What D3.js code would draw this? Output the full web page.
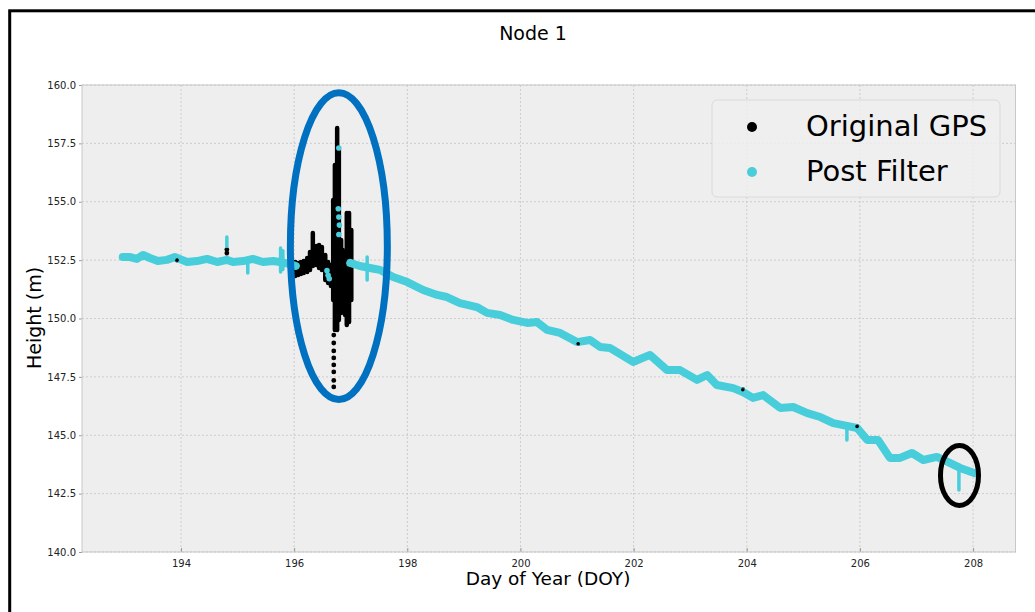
<!DOCTYPE html>
<html><head><meta charset="utf-8">
<script src="https://cdn.jsdelivr.net/npm/d3@7"></script>
<style>body{margin:0;background:#fff;overflow:hidden} svg{display:block} text{font-family:"DejaVu Sans",sans-serif}</style>
</head><body><svg id="c" width="1035" height="612"></svg>
<script>
// ---- data ----
const filterDay = [192.97,193.10,193.22,193.33,193.45,193.59,193.75,193.89,194.11,194.28,194.46,194.64,194.81,194.92,195.10,195.27,195.45,195.63,195.75,195.93,196.03,
  196.99,197.16,197.43,197.52,197.75,198.00,198.28,198.53,198.70,198.93,199.23,199.41,199.64,199.87,200.12,200.29,200.47,200.70,201.00,201.23,201.41,201.58,201.99,202.29,202.59,202.82,203.12,203.30,203.47,203.76,203.93,204.11,204.29,204.59,204.82,205.07,205.30,205.53,205.77,205.95,206.13,206.32,206.53,206.71,206.92,207.12,207.36,207.56,207.77,208.02];
const filterHeight = [152.63,152.63,152.55,152.72,152.59,152.46,152.51,152.63,152.42,152.46,152.55,152.42,152.51,152.42,152.46,152.55,152.42,152.46,152.42,152.33,152.25,
  152.38,152.25,152.12,152.08,151.78,151.56,151.22,151.01,150.92,150.66,150.49,150.24,150.15,149.94,149.81,149.85,149.51,149.38,148.99,149.08,148.78,148.74,148.14,148.44,147.79,147.79,147.37,147.58,147.15,147.02,146.85,146.60,146.72,146.17,146.21,145.95,145.78,145.52,145.40,145.31,144.80,144.80,144.03,144.03,144.24,143.94,144.07,143.85,143.60,143.38];
// isolated post-filter points inside the noisy window
const filterExtraDay = [196.58,196.60,196.62,196.79,196.78,196.79,196.80,196.79];
const filterExtraHeight = [152.05,151.85,151.70,157.30,154.70,154.35,154.00,153.60];
// vertical excursions of the post-filter series: day, low, high
const spikeDay  = [194.81,195.18,195.76,195.80,197.29,205.77,207.75];
const spikeLow  = [153.06,151.95,151.99,152.10,151.65,144.80,142.66];
const spikeHigh = [153.49,152.45,153.02,152.90,152.63,145.40,143.73];
// original GPS: column ranges in the noisy window (day, low, high)
const origDay  = [196.02,196.07,196.12,196.17,196.23,196.28,196.33,196.39,196.44,196.49,196.55,196.60,196.65,196.69,196.72,196.76,196.79,196.83,196.86,196.90,196.93,196.97,197.01];
const origLow  = [151.82,151.86,151.91,151.95,151.99,152.08,152.25,152.29,152.16,152.08,151.65,151.52,151.39,150.79,149.51,149.51,149.94,150.24,150.36,150.15,149.72,149.85,150.79];
const origHigh = [152.42,152.38,152.42,152.46,152.59,152.85,153.66,153.10,153.15,153.06,152.72,152.42,152.29,155.07,156.57,158.16,157.22,153.36,152.93,152.72,154.52,154.52,153.79];
// original GPS: sparse single points
const origPtDay = [196.70,196.70,196.70,196.70,196.70,196.70,196.70,196.70,193.93,194.81,194.81,201.02,203.93,205.95];
const origPtHeight = [149.29,148.95,148.61,148.31,148.01,147.71,147.35,147.07,152.50,152.80,152.95,148.92,146.95,145.38];
// annotations: centre day, centre height, radius days, radius metres
const annotDay = [196.79, 207.76];
const annotHeight = [153.10, 143.28];
const annotRx = [0.857, 0.336];
const annotRy = [6.57, 1.285];
const annotColor = ["#0070c0", "#000000"];
const annotWidth = [7, 5];
const xTicks = [194,196,198,200,202,204,206,208];
const yTicks = [140,142.5,145,147.5,150,152.5,155,157.5,160];
const legendLabels = ["Original GPS","Post Filter"];
const colors = {orig:"#000000", filt:"#48cdda"};

// ---- chart ----
const svg = d3.select("#c");
const L=82, R=1015.5, T=85, B=552;
const x = d3.scaleLinear().domain([192.25,208.75]).range([L,R]);
const y = d3.scaleLinear().domain([140,160]).range([B,T]);

svg.append("rect").attr("x",9.7).attr("y",10.8).attr("width",1100).attr("height",700)
  .attr("fill","none").attr("stroke","#000").attr("stroke-width",3);

svg.append("rect").attr("x",L).attr("y",T).attr("width",R-L).attr("height",B-T).attr("fill","#eeeeee");

const grid = svg.append("g");
xTicks.forEach(t=>grid.append("line").attr("x1",x(t)).attr("x2",x(t)).attr("y1",T).attr("y2",B)
  .attr("stroke","#c4c4c4").attr("stroke-width",0.8).attr("stroke-dasharray","2,2"));
yTicks.forEach(t=>grid.append("line").attr("x1",L).attr("x2",R).attr("y1",y(t)).attr("y2",y(t))
  .attr("stroke","#c4c4c4").attr("stroke-width",0.8).attr("stroke-dasharray","2,2"));

// axes
const xa = svg.append("g").attr("transform",`translate(0,${B})`)
  .call(d3.axisBottom(x).tickValues(xTicks).tickFormat(d3.format("d")).tickSize(-4).tickPadding(8));
const ya = svg.append("g").attr("transform",`translate(${L},0)`)
  .call(d3.axisLeft(y).tickValues(yTicks).tickFormat(d3.format(".1f")).tickSize(3).tickPadding(3));
[xa,ya].forEach(a=>{
  a.select(".domain").remove();
  a.selectAll("line").attr("stroke","#9a9a9a");
  a.selectAll("text").attr("font-size",10).attr("fill","#222").attr("font-family","DejaVu Sans");
});
svg.append("rect").attr("x",L).attr("y",T).attr("width",R-L).attr("height",B-T)
  .attr("fill","none").attr("stroke","#c8c8c8").attr("stroke-width",1);

const plot = svg.append("g");
// original GPS
origDay.forEach((d,i)=>plot.append("line").attr("x1",x(d)).attr("x2",x(d))
  .attr("y1",y(origLow[i])).attr("y2",y(origHigh[i]))
  .attr("stroke",colors.orig).attr("stroke-width",4.5).attr("stroke-linecap","round"));
plot.selectAll("circle.o").data(origPtDay).join("circle").attr("class","o")
  .attr("cx",d=>x(d)).attr("cy",(d,i)=>y(origPtHeight[i])).attr("r",2.4).attr("fill",colors.orig);

// post filter trace, split at gaps
const pts = filterDay.map((d,i)=>[d,filterHeight[i]]);
const runs=[[]];
pts.forEach((p,i)=>{ if(i>0 && p[0]-pts[i-1][0]>0.5) runs.push([]); runs[runs.length-1].push(p); });
const line = d3.line().x(d=>x(d[0])).y(d=>y(d[1]));
runs.forEach(r=>plot.append("path").attr("d",line(r)).attr("fill","none")
  .attr("stroke",colors.filt).attr("stroke-width",8).attr("stroke-linejoin","round").attr("stroke-linecap","round"));
spikeDay.forEach((d,i)=>plot.append("line").attr("x1",x(d)).attr("x2",x(d))
  .attr("y1",y(spikeLow[i])).attr("y2",y(spikeHigh[i]))
  .attr("stroke",colors.filt).attr("stroke-width",3.5).attr("stroke-linecap","round"));
plot.selectAll("circle.f").data(filterExtraDay).join("circle").attr("class","f")
  .attr("cx",d=>x(d)).attr("cy",(d,i)=>y(filterExtraHeight[i])).attr("r",2.8).attr("fill",colors.filt);
// small original blips on top of the trace
plot.selectAll("circle.ob").data(origPtDay.slice(8)).join("circle").attr("class","ob")
  .attr("cx",d=>x(d)).attr("cy",(d,i)=>y(origPtHeight[i+8])).attr("r",1.8).attr("fill",colors.orig);

// annotation ellipses
annotDay.forEach((d,i)=>svg.append("ellipse").attr("cx",x(d)).attr("cy",y(annotHeight[i]))
  .attr("rx",x(d+annotRx[i])-x(d)).attr("ry",y(annotHeight[i]-annotRy[i])-y(annotHeight[i]))
  .attr("fill","none").attr("stroke",annotColor[i]).attr("stroke-width",annotWidth[i]));

// legend
const lg = svg.append("g");
lg.append("rect").attr("x",712).attr("y",100).attr("width",288).attr("height",97).attr("rx",5)
  .attr("fill","#eeeeee").attr("fill-opacity",0.85).attr("stroke","#dadada").attr("stroke-width",1);
[colors.orig,colors.filt].forEach((c,i)=>{
  lg.append("circle").attr("cx",752).attr("cy",127+i*45).attr("r",5).attr("fill",c);
  lg.append("text").attr("x",806).attr("y",136+i*45).attr("font-size",29).attr("fill","#000").text(legendLabels[i]);
});

// titles
svg.append("text").attr("x",533).attr("y",40).attr("text-anchor","middle").attr("font-size",19).text("Node 1");
svg.append("text").attr("x",548).attr("y",585).attr("text-anchor","middle").attr("font-size",18.5).text("Day of Year (DOY)");
svg.append("text").attr("transform","translate(41,318) rotate(-90)").attr("text-anchor","middle").attr("font-size",19).text("Height (m)");
</script></body></html>
